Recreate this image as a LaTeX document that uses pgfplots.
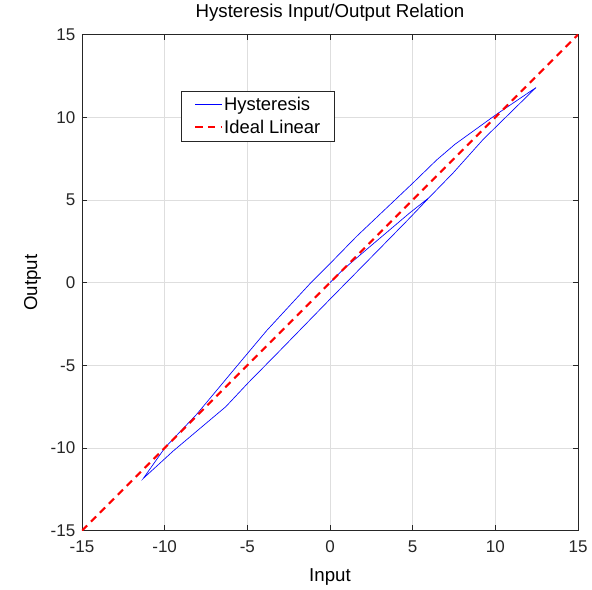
\documentclass[border=0pt]{standalone}
\usepackage{pgfplots}
\pgfplotsset{compat=1.18}
\usetikzlibrary{calc}
\usepackage{fontspec}
\setmainfont{Liberation Sans}
\definecolor{axgray}{RGB}{38,38,38}
\definecolor{gridgray}{RGB}{222,222,222}
\pgfplotstableread{
x y
0 0
0.8 0.8
2.5 2.25
4.8 4.2
6.0 5.15
7.46 6.65
9.27 8.67
12.46 11.8
10.07 10.18
7.56 8.37
6.45 7.42
5.04 6.05
1.61 2.8
0 1.15
-1.2 -0.05
-3.83 -2.9
-5.55 -4.95
-8.07 -7.97
-9.98 -9.98
-11.29 -11.84
-9.48 -10.18
-6.3 -7.5
-4.94 -6.05
-3.02 -4.1
0 -1.0
3 2.05
4.84 3.93
6.0 5.15
7.46 6.65
9.27 8.67
12.46 11.8
}\hyst
\pgfplotstableread{
x y
-15 -15
15 15
}\ideal
\begin{document}
\begin{tikzpicture}
\begin{axis}[
  name=ax,
  scale only axis, width=372pt, height=372pt,
  xmin=-15, xmax=15, ymin=-15, ymax=15,
  xtick={-15,-10,-5,0,5,10,15}, ytick={-15,-10,-5,0,5,10,15},
  xticklabels={-15,-10,-5,0,5,10,15},
  yticklabels={-15,-10,-5,0,5,10,15},
  tick align=inside, xtick pos=both, ytick pos=both,
  major tick length=4pt,
  grid=major, major grid style={gridgray, line width=0.5pt},
  axis line style={axgray, line width=0.5pt},
  tick style={axgray, line width=0.5pt},
  ticklabel style={font=\fontsize{12.75}{14}\selectfont, text=axgray},
  xticklabel style={yshift=-4pt},
  yticklabel style={xshift=-1.5pt},
  xlabel={Input}, ylabel={Output},
  xlabel style={at={(axis description cs:0.5,-0.1028)}, anchor=base, font=\fontsize{14}{16}\selectfont},
  ylabel style={at={(axis description cs:-0.0998,0.5)}, anchor=center, font=\fontsize{14}{16}\selectfont},
  title={Hysteresis Input/Output Relation},
  title style={at={(axis description cs:0.5,1.0175)}, anchor=base, font=\fontsize{14}{16}\selectfont},
  legend style={at={(0.2,0.887)}, anchor=north west, draw=axgray, line width=0.5pt, fill=white,
    font=\fontsize{13.8}{15}\selectfont, inner xsep=9.5pt, inner ysep=3.5pt,
    nodes={inner sep=1pt}, row sep=3.5pt, column sep=0pt},
  legend cell align=left,
  legend image code/.code={\draw[#1] (0pt,0pt) -- (20pt,0pt);},
]
\addplot[blue, line width=0.5pt] table {\hyst};
\addlegendentry{Hysteresis}
\addplot[red, line width=1.5pt, dash pattern=on 5.5pt off 4pt] table {\ideal};
\addlegendentry{Ideal Linear}
\end{axis}
\path ($(ax.south west)+(-61.5pt,-42pt)$) rectangle ($(ax.north east)+(10.5pt,24pt)$);
\end{tikzpicture}
\end{document}
